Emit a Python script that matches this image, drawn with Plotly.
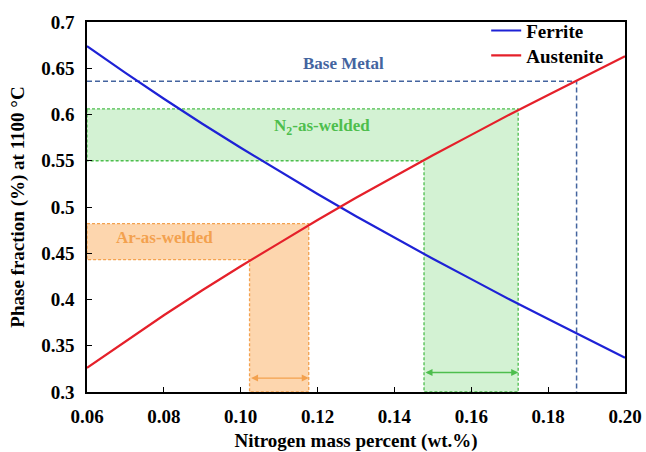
import plotly.graph_objects as go

# ---- data ----
nitrogen = [0.06, 0.07, 0.08, 0.09, 0.10, 0.11, 0.12, 0.13,
            0.14, 0.15, 0.16, 0.17, 0.18, 0.19, 0.20]
ferrite = [0.674, 0.645, 0.617, 0.590, 0.564, 0.539, 0.514, 0.490,
           0.467, 0.444, 0.422, 0.400, 0.379, 0.358, 0.337]
austenite = [0.326, 0.355, 0.383, 0.410, 0.436, 0.461, 0.486, 0.510,
             0.533, 0.556, 0.578, 0.600, 0.621, 0.642, 0.663]

base_n = 0.1874
base_frac = 0.636
n2_n = [0.1477, 0.1722]
n2_frac = [0.550, 0.606]
ar_n = [0.1023, 0.1177]
ar_frac = [0.443, 0.482]

x_ticks = [0.06, 0.08, 0.10, 0.12, 0.14, 0.16, 0.18, 0.20]
x_labels = ["0.06", "0.08", "0.10", "0.12", "0.14", "0.16", "0.18", "0.20"]
y_ticks = [0.3, 0.35, 0.4, 0.45, 0.5, 0.55, 0.6, 0.65, 0.7]
y_labels = ["0.3", "0.35", "0.4", "0.45", "0.5", "0.55", "0.6", "0.65", "0.7"]

X0, X1 = 0.06, 0.20
Y0, Y1 = 0.3, 0.7

FONT = "Liberation Serif"
BLUE = "#1E22D6"
RED = "#E5202A"
BASE_C = "#44649F"
GREEN_L = "#4DBE4D"
GREEN_F = "#D3F2D3"
ORANGE_L = "#F3A14E"
ORANGE_F = "#FDD6AE"


def l_shape(nx, fy):
    xs = [X0, nx[1], nx[1], nx[0], nx[0], X0, X0]
    ys = [fy[1], fy[1], Y0, Y0, fy[0], fy[0], fy[1]]
    return xs, ys


fig = go.Figure()

for nx, fy, lc, fc in [(ar_n, ar_frac, ORANGE_L, ORANGE_F), (n2_n, n2_frac, GREEN_L, GREEN_F)]:
    xs, ys = l_shape(nx, fy)
    fig.add_trace(go.Scatter(x=xs, y=ys, mode="lines", fill="toself", fillcolor=fc,
                             line=dict(color=lc, width=1.3, dash="3px,2px"),
                             showlegend=False, hoverinfo="skip"))

fig.add_trace(go.Scatter(x=[X0, base_n, base_n], y=[base_frac, base_frac, Y0], mode="lines",
                         line=dict(color=BASE_C, width=1.5, dash="5px,3px"),
                         showlegend=False, hoverinfo="skip"))

fig.add_trace(go.Scatter(x=nitrogen, y=ferrite, mode="lines", name="Ferrite",
                         line=dict(color=BLUE, width=2.2), legend="legend"))
fig.add_trace(go.Scatter(x=nitrogen, y=austenite, mode="lines", name="Austenite",
                         line=dict(color=RED, width=2.2), legend="legend2"))

# double-headed arrows
for nx, yy, c in [(ar_n, 0.315, ORANGE_L), (n2_n, 0.321, GREEN_L)]:
    fig.add_annotation(x=nx[1], y=yy, ax=nx[0], ay=yy, xref="x", yref="y",
                       axref="x", ayref="y", text="", showarrow=True,
                       arrowside="end+start", arrowhead=2, arrowsize=1,
                       arrowwidth=1.4, arrowcolor=c, standoff=0, startstandoff=0)

fig.add_annotation(x=0.1267, y=0.655, text="Base Metal", showarrow=False,
                   font=dict(family=FONT, size=17, color=BASE_C, weight="bold"))
fig.add_annotation(x=0.1212, y=0.587, text="N<sub>2</sub>-as-welded", showarrow=False,
                   font=dict(family=FONT, size=17, color=GREEN_L, weight="bold"))
fig.add_annotation(x=0.0802, y=0.467, text="Ar-as-welded", showarrow=False,
                   font=dict(family=FONT, size=17, color=ORANGE_L, weight="bold"))

axis_common = dict(showline=True, linecolor="black", linewidth=1.5, mirror=True,
                   ticks="inside", ticklen=5, tickwidth=1.3, tickcolor="black",
                   showgrid=False, zeroline=False, automargin=False,
                   tickfont=dict(family=FONT, size=19, color="black", weight="bold"))

fig.update_xaxes(range=[X0, X1], tickvals=x_ticks, ticktext=x_labels, ticklabelstandoff=6,
                 title=dict(text="Nitrogen mass percent (wt.%)", standoff=10,
                            font=dict(family=FONT, size=19, color="black", weight="bold")),
                 **axis_common)
fig.update_yaxes(range=[Y0, Y1], tickvals=y_ticks, ticktext=y_labels, ticklabelstandoff=7,
                 title=dict(text="Phase fraction (%) at 1100 °C", standoff=12,
                            font=dict(family=FONT, size=19, color="black", weight="bold")),
                 **axis_common)

leg_common = dict(xanchor="left", yanchor="top", bgcolor="rgba(0,0,0,0)", borderwidth=0,
                  font=dict(family=FONT, size=19, color="black", weight="bold"),
                  itemwidth=30)

fig.update_layout(
    width=646, height=452,
    margin=dict(l=87, r=21, t=19, b=60),
    paper_bgcolor="white", plot_bgcolor="white",
    legend=dict(x=0.742, y=1.028, **leg_common),
    legend2=dict(x=0.742, y=0.961, **leg_common),
)

fig.write_html("out.html")
